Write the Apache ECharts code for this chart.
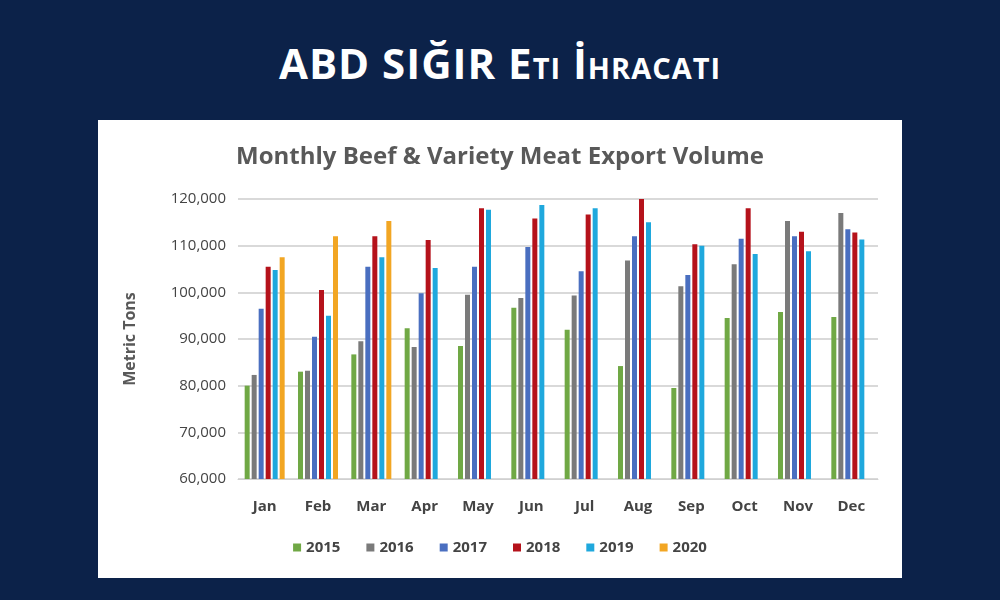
<!DOCTYPE html>
<html><head><meta charset="utf-8">
<script src="https://cdn.jsdelivr.net/npm/echarts@6/dist/echarts.min.js"></script>
<style>
body{margin:0;width:1000px;height:600px;background:#0c2249;position:relative;overflow:hidden;font-family:'Open Sans',sans-serif}
#head{position:absolute;top:34px;left:0;width:1000px;text-align:center;color:#fff;font-size:42px;font-weight:bold;font-variant:small-caps;letter-spacing:1px}
#chart{position:absolute;left:98px;top:120px;width:804px;height:458px;background:#fff}
</style></head><body>
<div id="head">ABD SIĞIR Eti İhracatı</div>
<div id="chart"></div>
<script>
var months = ['Jan','Feb','Mar','Apr','May','Jun','Jul','Aug','Sep','Oct','Nov','Dec'];
var y2015 = [80000,83000,86700,92300,88500,96700,92000,84200,79500,94500,95800,94700];
var y2016 = [82300,83200,89500,88300,99500,98800,99300,106800,101300,106000,115300,117000];
var y2017 = [96500,90500,105500,99800,105500,109700,104500,112000,103700,111500,112000,113500];
var y2018 = [105500,100500,112000,111200,118000,115800,116700,120000,110300,118000,113000,112800];
var y2019 = [104800,95000,107500,105200,117700,118700,118000,115000,110000,108200,108800,111300];
var y2020 = [107500,112000,115300,null,null,null,null,null,null,null,null,null];
var names = ['2015','2016','2017','2018','2019','2020'];
var colors = ['#70a845','#7a7a7a','#4a6fc0','#b5121b','#1fa8dd','#f2a623'];
var data = [y2015,y2016,y2017,y2018,y2019,y2020];

var chart = echarts.init(document.getElementById('chart'));
chart.setOption({
    title: { text: 'Monthly Beef & Variety Meat Export Volume', left: 'center', top: 20,
        textStyle: { color: '#595959', fontSize: 24, fontWeight: 'bold', fontFamily: 'Open Sans' } },
    legend: { data: names, bottom: 18, itemWidth: 8, itemHeight: 8, itemGap: 26, icon: 'rect',
        textStyle: { color: '#444', fontSize: 15, fontWeight: 'bold', fontFamily: 'Open Sans' } },
    grid: { left: 140, right: 24, top: 79, bottom: 99 },
    xAxis: [{ type: 'category', data: months, axisTick: { show: false },
        axisLine: { lineStyle: { color: '#d0d0d0' } },
        axisLabel: { color: '#444', fontSize: 15, fontWeight: 'bold', margin: 20, fontFamily: 'Open Sans' } }],
    yAxis: [{ type: 'value', min: 60000, max: 120000, interval: 10000, name: 'Metric Tons',
        nameLocation: 'center', nameGap: 100, nameTextStyle: { color: '#595959', fontSize: 16, fontWeight: 'bold', fontFamily: 'Open Sans' },
        axisLabel: { color: '#444', fontSize: 15, margin: 12, fontFamily: 'Open Sans',
            formatter: function (v) { return v.toLocaleString('en-US'); } },
        splitLine: { lineStyle: { color: '#d9d9d9', width: 2 } } }],
    series: names.map(function (n, i) {
        return { name: n, type: 'bar', data: data[i], barWidth: 5, barGap: '40%',
            itemStyle: { color: colors[i] } };
    })
});
</script>
</body></html>
